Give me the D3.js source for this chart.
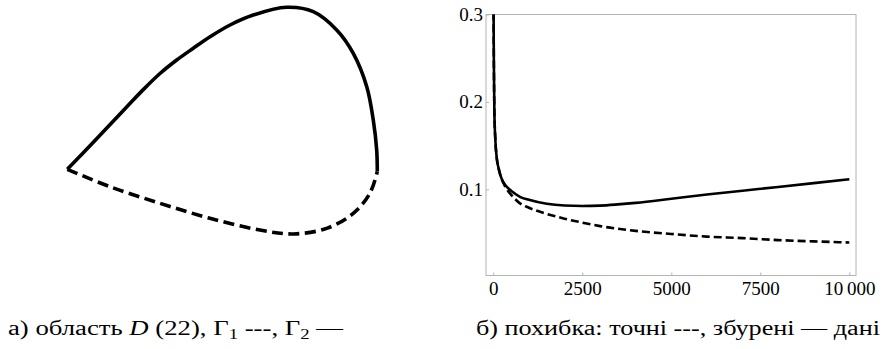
<!DOCTYPE html>
<html lang="uk">
<head>
<meta charset="UTF-8">
<title>Область D та похибка</title>
<script src="https://d3js.org/d3.v7.min.js"></script>
<style>
  body { margin: 0; background: #fff; }
  svg { display: block; }
  .cap { font-family: "Liberation Serif", "DejaVu Serif", serif; font-size: 20px; fill: #000; }
  .tick text { font-family: "Liberation Serif", "DejaVu Serif", serif; font-size: 19px; fill: #000; }
  .frame { fill: none; stroke: #b4b4b4; stroke-width: 1; }
</style>
</head>
<body>
<div id="chart"></div>
<script>
// panel a) boundary of D: Γ1 (dashed, lower) and Γ2 (solid, upper)
const gamma1X = [-1, -0.725, -0.403, -0.080, 0.243, 0.458, 0.673, 0.845, 0.952, 1.0];
const gamma1Y = [0, -0.112, -0.219, -0.316, -0.392, -0.417, -0.381, -0.284, -0.155, -0.015];
const gamma2X = [-1, -0.832, -0.617, -0.510, -0.402, -0.294, -0.187, -0.079, 0.050, 0.200, 0.415, 0.587, 0.738, 0.845, 0.932, 0.974, 0.996, 1.0];
const gamma2Y = [0, 0.174, 0.402, 0.514, 0.618, 0.705, 0.781, 0.855, 0.931, 0.995, 1.045, 1.017, 0.899, 0.748, 0.533, 0.318, 0.125, -0.015];

// panel b) error vs n
const nExact = [5, 15, 30, 60, 100, 150, 200, 300, 400, 500, 750, 1000, 1500, 2000, 2500, 3000, 4000, 5000, 6000, 7000, 8000, 9000, 10000];
const errExact = [0.33, 0.25, 0.19, 0.155, 0.135, 0.124, 0.116, 0.106, 0.099, 0.094, 0.084, 0.079, 0.072, 0.0665, 0.062, 0.058, 0.0525, 0.049, 0.046, 0.0443, 0.042, 0.0405, 0.0392];
const nNoisy = [5, 15, 30, 60, 100, 150, 200, 300, 400, 500, 750, 1000, 1500, 2000, 2500, 3000, 3500, 4000, 5000, 6000, 7000, 8000, 9000, 10000];
const errNoisy = [0.33, 0.25, 0.19, 0.155, 0.135, 0.124, 0.116, 0.107, 0.102, 0.0985, 0.0915, 0.088, 0.0835, 0.0815, 0.081, 0.0814, 0.0828, 0.0846, 0.0893, 0.0942, 0.0985, 0.1027, 0.1071, 0.1116];

const xTicks = [0, 2500, 5000, 7500, 10000];
const yTicks = [0.1, 0.2, 0.3];

const W = 888, H = 349;
const svg = d3.select("#chart").append("svg").attr("width", W).attr("height", H);

// ---- panel a)
const ax = d3.scaleLinear().domain([-1, 1]).range([67.3, 377.3]);
const ay = d3.scaleLinear().domain([0, 1]).range([169.3, 14.3]);
const shapeLine = d3.line().x(d => ax(d[0])).y(d => ay(d[1])).curve(d3.curveCatmullRom.alpha(0.5));

const ga = svg.append("g");
ga.append("path")
  .attr("d", shapeLine(d3.zip(gamma1X, gamma1Y)))
  .attr("fill", "none").attr("stroke", "#000").attr("stroke-width", 3.6)
  .attr("stroke-dasharray", "11,5.5");
ga.append("path")
  .attr("d", shapeLine(d3.zip(gamma2X, gamma2Y)))
  .attr("fill", "none").attr("stroke", "#000").attr("stroke-width", 3.6);

// ---- panel b)
const x = d3.scaleLinear().domain([-205, 10188]).range([486, 856]);
const y = d3.scaleLinear().domain([0.0015, 0.3]).range([275.5, 14.5]);

const gb = svg.append("g");
gb.append("clipPath").attr("id", "clipB")
  .append("rect").attr("x", 486).attr("y", 14.5).attr("width", 370).attr("height", 261);

gb.append("rect").attr("class", "frame")
  .attr("x", 486).attr("y", 14.5).attr("width", 370).attr("height", 261);

gb.append("g").attr("transform", "translate(0,275.5)")
  .call(d3.axisBottom(x).tickValues(xTicks).tickSize(-3).tickPadding(6)
    .tickFormat(d => d === 10000 ? "10\u2009000" : d3.format("d")(d)))
  .call(g => g.select(".domain").remove())
  .call(g => g.selectAll(".tick line").attr("stroke", "#b4b4b4"));

gb.append("g").attr("transform", "translate(486,0)")
  .call(d3.axisLeft(y).tickValues(yTicks).tickSize(-3).tickPadding(3).tickFormat(d3.format(".1f")))
  .call(g => g.select(".domain").remove())
  .call(g => g.selectAll(".tick line").attr("stroke", "#b4b4b4"))
  .call(g => g.selectAll(".tick text").attr("dy", "0.3em"));

const errLine = d3.line().x(d => x(d[0])).y(d => y(d[1])).curve(d3.curveMonotoneX);
const plot = gb.append("g").attr("clip-path", "url(#clipB)");
plot.append("path")
  .attr("d", errLine(d3.zip(nExact, errExact)))
  .attr("fill", "none").attr("stroke", "#000").attr("stroke-width", 2.6)
  .attr("stroke-dasharray", "8,4");
plot.append("path")
  .attr("d", errLine(d3.zip(nNoisy, errNoisy)))
  .attr("fill", "none").attr("stroke", "#000").attr("stroke-width", 2.6);

// ---- captions
const capA = svg.append("text").attr("class", "cap").attr("x", 8).attr("y", 335)
  .attr("textLength", 335).attr("lengthAdjust", "spacingAndGlyphs");
capA.append("tspan").text("а) область ");
capA.append("tspan").attr("font-style", "italic").text("D");
capA.append("tspan").text(" (22), Γ");
capA.append("tspan").attr("font-size", 14).attr("dy", 4).text("1");
capA.append("tspan").attr("dy", -4).text(" ---, Γ");
capA.append("tspan").attr("font-size", 14).attr("dy", 4).text("2");
capA.append("tspan").attr("dy", -4).text(" —");

svg.append("text").attr("class", "cap").attr("x", 476).attr("y", 335)
  .attr("textLength", 404).attr("lengthAdjust", "spacingAndGlyphs")
  .text("б) похибка: точні ---, збурені — дані");
</script>
</body>
</html>
